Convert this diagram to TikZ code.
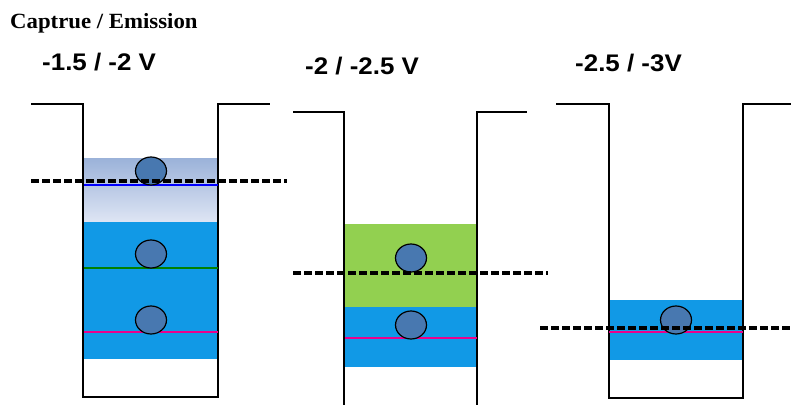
\documentclass[tikz,border=0pt]{standalone}
\usepackage{fontspec}
\setmainfont{Liberation Serif}
\newfontfamily\labelfont{Liberation Sans}
\usetikzlibrary{shapes.geometric}
\definecolor{wellblue}{RGB}{17,153,230}
\definecolor{wellgreen}{RGB}{146,208,80}
\definecolor{eblue}{RGB}{72,120,176}
\definecolor{gradtop}{RGB}{155,178,217}
\definecolor{gradbot}{RGB}{222,229,244}
\tikzset{
  wall/.style={line width=2.8pt, line join=miter},
  fermi/.style={line width=3.6pt, dash pattern=on 8pt off 3pt},
  level/.style={line width=2pt},
  electron/.style={ellipse, draw=black, line width=1.2pt, fill=eblue, minimum width=31pt, minimum height=28pt, inner sep=0pt},
  volt/.style={font=\labelfont\bfseries\fontsize{24}{26}\selectfont, anchor=west, inner sep=0pt, xscale=1.08},
}
\begin{document}
\begin{tikzpicture}[x=1pt,y=-1pt]
\useasboundingbox (0,0) rectangle (791,404);
\fill[white] (0,0) rectangle (791,404);
% titles
\node[anchor=west, inner sep=0pt, xscale=1.05, font=\bfseries\fontsize{21.7}{24}\selectfont] (title) at (10,23) {Captrue / Emission};
\node[volt] (v1) at (42,62) {-1.5 / -2 V};
\node[volt] (v2) at (305,66) {-2 / -2.5 V};
\node[volt] (v3) at (575,63) {-2.5 / -3V};
% fills well 1
\shade[top color=gradtop, bottom color=gradbot] (84,158) rectangle (218,222);
\fill[wellblue] (84,222) rectangle (218,359);
% fills well 2
\fill[wellgreen] (345,224) rectangle (477,307);
\fill[wellblue] (345,307) rectangle (477,367);
% fills well 3
\fill[wellblue] (609,300) rectangle (743,360);
% walls
\draw[wall] (31,104) -- (83,104) -- (83,397) -- (218,397) -- (218,104) -- (270,104);
\draw[wall] (293,112) -- (344,112) -- (344,405);
\draw[wall] (477,405) -- (477,112) -- (527,112);
\draw[wall] (556,104) -- (609,104) -- (609,398) -- (743,398) -- (743,104) -- (792,104);
% levels
\draw[level, blue] (84,185) -- (218,185);
\draw[level, green!50!black] (84,268) -- (218,268);
\draw[level, magenta] (84,332) -- (218,332);
\draw[level, magenta] (345,338) -- (477,338);
\draw[level, magenta] (609,332) -- (743,332);
% electrons
\node[electron] (e1) at (151,171) {};
\node[electron] (e2) at (151,254) {};
\node[electron] (e3) at (151,320) {};
\node[electron] (e4) at (411,258) {};
\node[electron] (e5) at (411,325) {};
\node[electron] (e6) at (676,320) {};
% Fermi levels
\draw[fermi] (31,181) -- (287,181);
\draw[fermi] (293,273) -- (548,273);
\draw[fermi] (540,328) -- (791,328);
\end{tikzpicture}
\end{document}
